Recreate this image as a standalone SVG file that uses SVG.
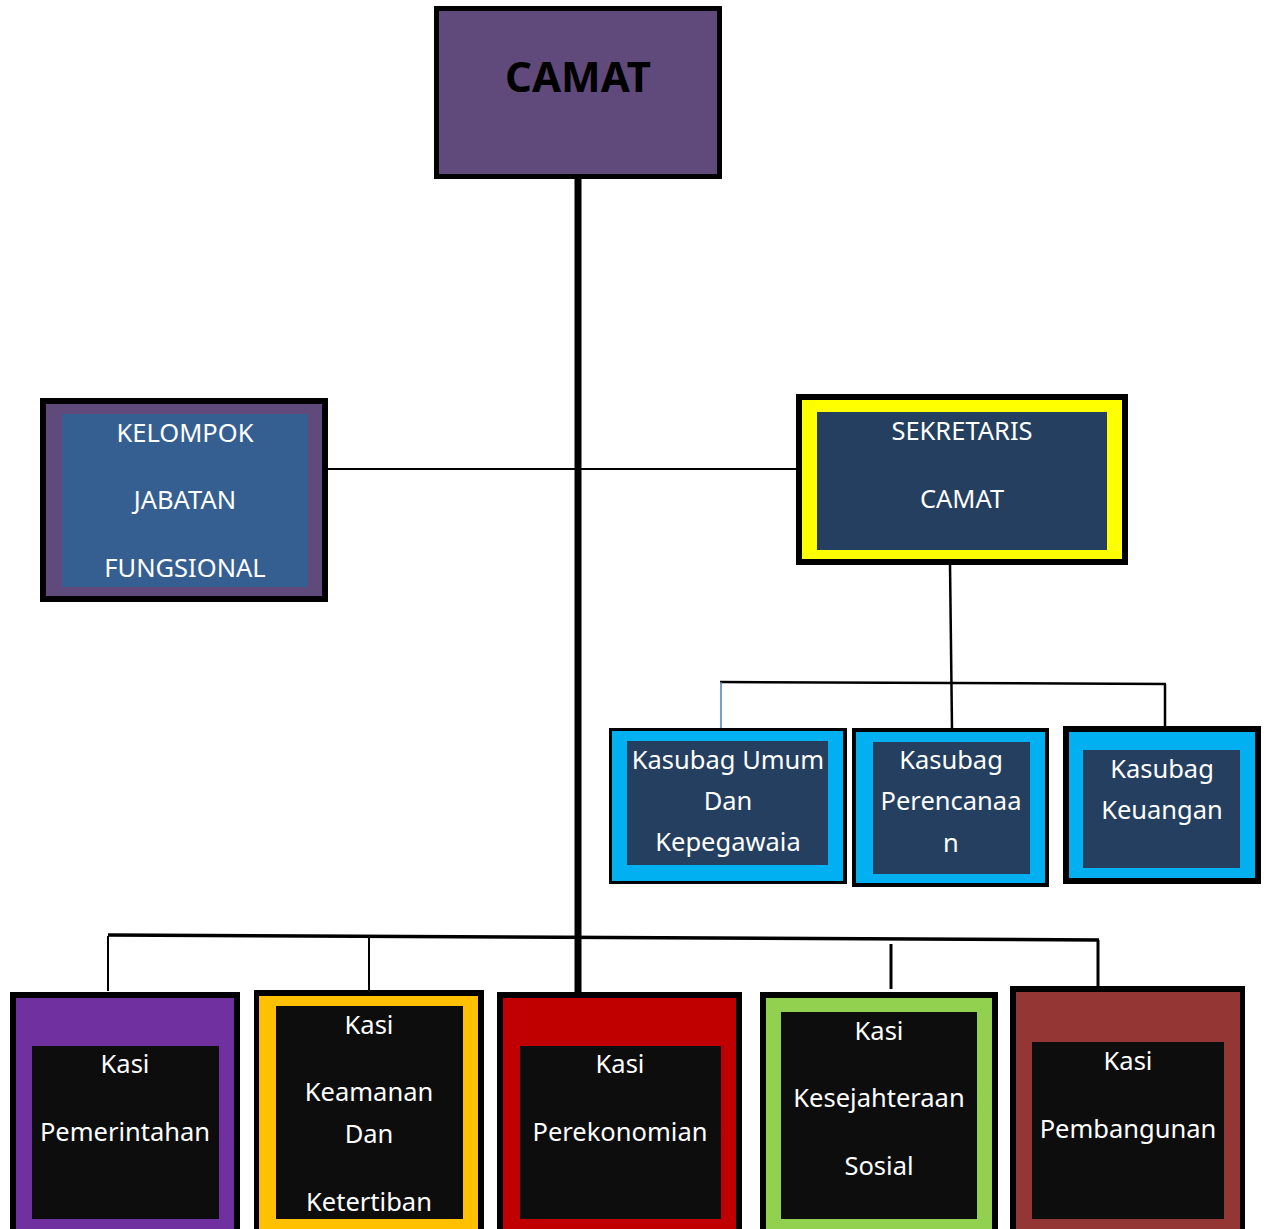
<svg xmlns="http://www.w3.org/2000/svg" width="1267" height="1229" viewBox="0 0 1267 1229">
<style>
.t{font-family:"Noto Sans","Open Sans",sans-serif;font-size:25.5px;fill:#ffffff;text-anchor:middle}
.ln{stroke:#000;fill:none}
.blk{fill:#000}
.inner{fill:#0d0d0d}
.navy{fill:#243f60}
.cyan{fill:#00b0f0}
</style>
<rect width="1267" height="1229" fill="#ffffff"/>
<g id="connectors">
<line class="ln" x1="328" y1="469" x2="797" y2="469" stroke-width="2"/>
<line class="ln" x1="950" y1="564" x2="952" y2="729" stroke-width="2.5"/>
<line class="ln" x1="720" y1="682" x2="1166" y2="684" stroke-width="2.5"/>
<line x1="721" y1="682" x2="721" y2="729" stroke="#4a7ebb" stroke-width="1.5"/>
<line class="ln" x1="1165" y1="684" x2="1165" y2="732" stroke-width="2.5"/>
<line class="ln" x1="108" y1="935" x2="1099" y2="940" stroke-width="3.5"/>
<line class="ln" x1="108" y1="936" x2="108" y2="991" stroke-width="2"/>
<line class="ln" x1="369" y1="938" x2="369" y2="991" stroke-width="2"/>
<line class="ln" x1="891" y1="944" x2="891" y2="989" stroke-width="3"/>
<line class="ln" x1="1098" y1="940" x2="1098" y2="988" stroke-width="3"/>
<line class="ln" x1="578" y1="178" x2="578" y2="994" stroke-width="7"/>
</g>
<g id="camat">
<rect x="436.5" y="8.5" width="283" height="168" fill="#604a7b" stroke="#000" stroke-width="5"/>
<text x="578" y="92" style="font-family:'Noto Sans','Open Sans',sans-serif;font-size:42px;font-weight:bold;fill:#000;text-anchor:middle">CAMAT</text>
</g>
<g id="kelompok">
<rect x="40" y="398" width="288" height="204" class="blk"/>
<rect x="46" y="404" width="276" height="192" fill="#604a7b"/>
<rect x="62" y="414" width="246" height="173" fill="#365f91"/>
<text class="t" x="185" y="442">KELOMPOK</text>
<text class="t" x="185" y="509">JABATAN</text>
<text class="t" x="185" y="577">FUNGSIONAL</text>
</g>
<g id="sekretaris">
<rect x="796" y="394" width="332" height="171" class="blk"/>
<rect x="802" y="400" width="320" height="159" fill="#ffff00"/>
<rect x="817" y="412" width="290" height="138" class="navy"/>
<text class="t" x="962" y="440">SEKRETARIS</text>
<text class="t" x="962" y="508">CAMAT</text>
</g>
<g id="kasubag-umum">
<rect x="609" y="728" width="238" height="156" class="blk"/>
<rect x="612" y="731" width="231" height="150" class="cyan"/>
<rect x="627" y="741" width="201" height="124" class="navy"/>
<text class="t" x="728" y="769">Kasubag Umum</text>
<text class="t" x="728" y="810">Dan</text>
<text class="t" x="728" y="851">Kepegawaia</text>
</g>
<g id="kasubag-perencanaan">
<rect x="852" y="728" width="197" height="159" class="blk"/>
<rect x="856" y="732" width="189" height="151" class="cyan"/>
<rect x="873" y="742" width="157" height="132" class="navy"/>
<text class="t" x="951" y="769">Kasubag</text>
<text class="t" x="951" y="810">Perencanaa</text>
<text class="t" x="951" y="852">n</text>
</g>
<g id="kasubag-keuangan">
<rect x="1063" y="726" width="198" height="158" class="blk"/>
<rect x="1069" y="732" width="186" height="146" class="cyan"/>
<rect x="1083" y="750" width="157" height="118" class="navy"/>
<text class="t" x="1162" y="778">Kasubag</text>
<text class="t" x="1162" y="819">Keuangan</text>
</g>
<g id="kasi-pemerintahan">
<rect x="10" y="992" width="230" height="240" class="blk"/>
<rect x="16" y="998" width="218" height="234" fill="#7030a0"/>
<rect x="32" y="1046" width="187" height="173" class="inner"/>
<text class="t" x="125" y="1073">Kasi</text>
<text class="t" x="125" y="1141">Pemerintahan</text>
</g>
<g id="kasi-keamanan">
<rect x="254" y="990" width="230" height="242" class="blk"/>
<rect x="259" y="996" width="219" height="236" fill="#ffc000"/>
<rect x="276" y="1006" width="187" height="213" class="inner"/>
<text class="t" x="369" y="1034">Kasi</text>
<text class="t" x="369" y="1101">Keamanan</text>
<text class="t" x="369" y="1143">Dan</text>
<text class="t" x="369" y="1211">Ketertiban</text>
</g>
<g id="kasi-perekonomian">
<rect x="497" y="992" width="245" height="240" class="blk"/>
<rect x="503" y="998" width="233" height="234" fill="#c00000"/>
<rect x="520" y="1046" width="201" height="173" class="inner"/>
<text class="t" x="620" y="1073">Kasi</text>
<text class="t" x="620" y="1141">Perekonomian</text>
</g>
<g id="kasi-kesejahteraan">
<rect x="760" y="992" width="238" height="240" class="blk"/>
<rect x="766" y="998" width="226" height="234" fill="#92d050"/>
<rect x="781" y="1012" width="196" height="207" class="inner"/>
<text class="t" x="879" y="1040">Kasi</text>
<text class="t" x="879" y="1107">Kesejahteraan</text>
<text class="t" x="879" y="1175">Sosial</text>
</g>
<g id="kasi-pembangunan">
<rect x="1010" y="986" width="235" height="246" class="blk"/>
<rect x="1016" y="992" width="224" height="240" fill="#943634"/>
<rect x="1032" y="1042" width="192" height="177" class="inner"/>
<text class="t" x="1128" y="1070">Kasi</text>
<text class="t" x="1128" y="1138">Pembangunan</text>
</g>
</svg>
